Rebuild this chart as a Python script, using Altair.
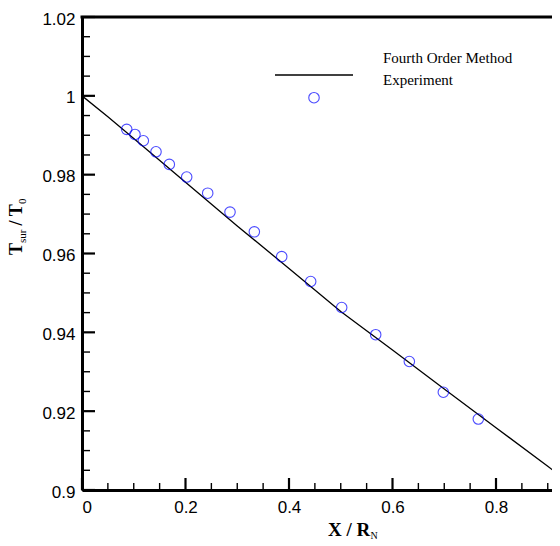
import altair as alt
import pandas as pd

# ---------------- data ----------------
curve_x = [0.0, 0.05, 0.1, 0.2, 0.3, 0.4, 0.5, 0.6, 0.7, 0.8, 0.9, 0.95]
curve_y = [1.0, 0.9947, 0.9892, 0.9781, 0.9670, 0.9562, 0.9453, 0.9355, 0.9256, 0.9158, 0.9060, 0.9011]

exp_x = [0.0864, 0.1024, 0.1185, 0.1430, 0.1687, 0.2023, 0.2429, 0.2860,
         0.3330, 0.3859, 0.4419, 0.5018, 0.5675, 0.6325, 0.6982, 0.7658]
exp_y = [0.9915, 0.9902, 0.9886, 0.9858, 0.9826, 0.9794, 0.9753, 0.9705,
         0.9655, 0.9592, 0.9529, 0.9463, 0.9394, 0.9326, 0.9248, 0.9180]

series_names = ["Fourth Order Method", "Experiment"]

x_major = [0, 0.2, 0.4, 0.6, 0.8]
x_minor = [0.05, 0.1, 0.15, 0.25, 0.3, 0.35, 0.45, 0.5, 0.55, 0.65, 0.7, 0.75, 0.85, 0.9]
y_major = [0.9, 0.92, 0.94, 0.96, 0.98, 1.0, 1.02]
y_minor = [0.905, 0.91, 0.915, 0.925, 0.93, 0.935, 0.945, 0.95, 0.955, 0.965,
           0.97, 0.975, 0.985, 0.99, 0.995, 1.005, 1.01, 1.015]

x_range = [0, 0.9082]
y_range = [0.9, 1.02]

# ---------------- layout ----------------
W, H = 470, 473
SANS = "Liberation Sans"
SERIF = "Liberation Serif"

xs = alt.Scale(domain=x_range, nice=False, zero=False)
ys = alt.Scale(domain=y_range, nice=False, zero=False)

x_axis = alt.Axis(values=x_major, format="~g", ticks=False, tickSize=0, grid=False,
                  domain=True, domainWidth=3, domainColor="black", title=None,
                  labelFont=SANS, labelFontSize=17, labelColor="black", labelPadding=9)
y_axis = alt.Axis(values=y_major, format="~g", ticks=False, tickSize=0, grid=False,
                  domain=True, domainWidth=3, domainColor="black", title=None,
                  labelFont=SANS, labelFontSize=17, labelColor="black", labelPadding=7,
                  labelOffset=2)

curve_df = pd.DataFrame({"x": curve_x, "y": curve_y})
exp_df = pd.DataFrame({"x": exp_x, "y": exp_y})

curve = alt.Chart(curve_df).mark_line(color="black", strokeWidth=1.3, clip=True).encode(
    x=alt.X("x:Q", scale=xs, axis=x_axis),
    y=alt.Y("y:Q", scale=ys, axis=y_axis),
)

points = alt.Chart(exp_df).mark_point(shape="circle", filled=False, color="blue",
                                      size=110, strokeWidth=1.1).encode(
    x=alt.X("x:Q", scale=xs),
    y=alt.Y("y:Q", scale=ys),
)

def xticks(vals, length, width):
    return alt.Chart(pd.DataFrame({"x": vals})).mark_rule(color="black", strokeWidth=width).encode(
        x=alt.X("x:Q", scale=xs),
        y=alt.value(H), y2=alt.value(H - length),
    )

def yticks(vals, length, width):
    return alt.Chart(pd.DataFrame({"y": vals})).mark_rule(color="black", strokeWidth=width).encode(
        y=alt.Y("y:Q", scale=ys),
        x=alt.value(0), x2=alt.value(length),
    )

one = pd.DataFrame({"k": [0]})

top_border = alt.Chart(one).mark_rule(color="black", strokeWidth=3).encode(
    x=alt.value(-1.5), x2=alt.value(W), y=alt.value(0))

# legend
leg_line = alt.Chart(one).mark_rule(color="black", strokeWidth=1.3).encode(
    x=alt.value(193), x2=alt.value(271), y=alt.value(58))
leg_point = alt.Chart(one).mark_point(shape="circle", filled=False, color="blue",
                                      size=110, strokeWidth=1.1).encode(
    x=alt.value(232), y=alt.value(80.7))


def label(txt, x, y, size, bold=False, angle=0):
    kw = dict(font=SERIF, fontSize=size, align="left", baseline="alphabetic",
              color="black", text=txt)
    if bold:
        kw["fontWeight"] = "bold"
    if angle:
        kw["angle"] = angle
    return alt.Chart(one).mark_text(**kw).encode(x=alt.value(x), y=alt.value(y))

leg_text1 = label(series_names[0], 301, 46.3, 15)
leg_text2 = label(series_names[1], 301, 68, 15)

# x title: X / R_N
xt1 = label("X / R", 246, 519, 19, bold=True)
xt2 = label("N", 288.5, 521.5, 10)

# y title: T_sur / T_0 (rotated)
yx = -60.5
yt1 = label("T", yx, 238, 18, bold=True, angle=270)
yt2 = label("sur", yx + 4, 226, 11, angle=270)
yt3 = label("/ T", yx, 208.5, 18, bold=True, angle=270)
yt4 = label("0", yx + 4, 187, 11, angle=270)

chart = alt.layer(
    curve, points,
    xticks(x_major, 12, 2.2), xticks(x_minor, 7, 1.4),
    yticks(y_major, 13, 2.2), yticks(y_minor, 8, 1.4),
    top_border, leg_line, leg_point, leg_text1, leg_text2,
    xt1, xt2, yt1, yt2, yt3, yt4,
).properties(
    width=W, height=H,
    autosize=alt.AutoSizeParams(type="none"),
    padding={"left": 74, "top": 9, "right": 0, "bottom": 51},
).configure_view(stroke=None).configure(background="white")

chart.save("out.html", embed_options={"renderer": "svg", "actions": False})
